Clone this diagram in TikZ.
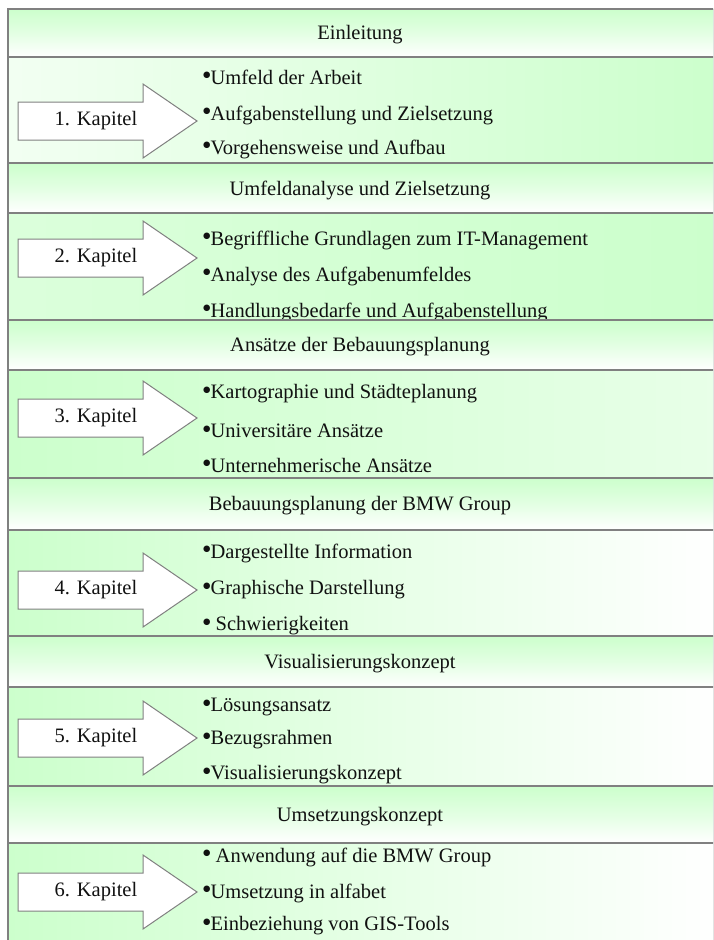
\documentclass[tikz,border=0pt]{standalone}
\usepackage{fontspec}
\setmainfont{Liberation Serif}
\newfontfamily\symfont{DejaVu Sans}
\usepackage{xcolor}
\usepackage{tikz}
\usetikzlibrary{positioning}
\definecolor{PlanGreen}{HTML}{CCFFCC}
\definecolor{PlanGray}{HTML}{808080}
\definecolor{PlanInk}{HTML}{111111}
\newcommand{\pkt}{\raisebox{6.5pt}{\symfont\fontsize{8.5}{8.5}\selectfont ●}}

\begin{document}
\begin{tikzpicture}[x=1pt,y=-1pt,font=\fontsize{20.5}{24}\selectfont,text=PlanInk,
    band/.style={top color=PlanGreen,bottom color=white,middle color=PlanGreen!55!white},
    rule/.style={PlanGray,line width=2pt},
    pfeil/.style={draw=PlanGray,line width=1pt,fill=white,line join=miter},
    punkt/.style={anchor=west,inner sep=0pt}]
  \useasboundingbox (0,0) rectangle (713,940);
  \clip (0,0) rectangle (713,940);
  % content rows
  \fill[left color=PlanGreen!25!white,right color=PlanGreen] (8,57) rectangle (720,163);
  \fill[left color=PlanGreen!70!white,right color=PlanGreen] (8,213) rectangle (720,320);
  \fill[left color=PlanGreen,right color=PlanGreen!45!white] (8,370) rectangle (720,478);
  \fill[left color=PlanGreen,right color=white] (8,530) rectangle (720,636);
  \fill[left color=PlanGreen,right color=white] (8,687) rectangle (720,786);
  \fill[left color=PlanGreen,right color=white] (8,843) rectangle (720,945);
  % arrows and bullets
  \foreach \i/\ay in {1/121,2/258,3/418,4/590,5/738,6/892}{
    \path[pfeil] (18,\ay-19) -- (143,\ay-19) -- (143,\ay-37) -- (197,\ay)
      -- (143,\ay+37) -- (143,\ay+19) -- (18,\ay+19) -- cycle;
    \node (k\i) at (96,\ay) {\i. Kapitel};
  }
  \node[punkt] (p11) at (203,77) {\pkt Umfeld der Arbeit};
  \node[punkt] (p12) at (203,115) {\pkt Aufgabenstellung und Zielsetzung};
  \node[punkt] (p13) at (203,149) {\pkt Vorgehensweise und Aufbau};
  \node[punkt] (p21) at (203,240) {\pkt Begriffliche Grundlagen zum IT-Management};
  \node[punkt] (p22) at (203,276) {\pkt Analyse des Aufgabenumfeldes};
  \node[punkt] (p23) at (203,312) {\pkt Handlungsbedarfe und Aufgabenstellung};
  \node[punkt] (p31) at (203,394) {\pkt Kartographie und Städteplanung};
  \node[punkt] (p32) at (203,431) {\pkt Universitäre Ansätze};
  \node[punkt] (p33) at (203,465) {\pkt Unternehmerische Ansätze};
  \node[punkt] (p41) at (203,553) {\pkt Dargestellte Information};
  \node[punkt] (p42) at (203,590) {\pkt Graphische Darstellung};
  \node[punkt] (p43) at (203,626) {\pkt\ Schwierigkeiten};
  \node[punkt] (p51) at (203,707) {\pkt Lösungsansatz};
  \node[punkt] (p52) at (203,740) {\pkt Bezugsrahmen};
  \node[punkt] (p53) at (203,775) {\pkt Visualisierungskonzept};
  \node[punkt] (p61) at (203,857) {\pkt\ Anwendung auf die BMW Group};
  \node[punkt] (p62) at (203,893) {\pkt Umsetzung in alfabet};
  \node[punkt] (p63) at (203,926) {\pkt Einbeziehung von GIS-Tools};
  % header bands
  \foreach \i/\top/\bot/\titel in {1/9/57/Einleitung,2/163/213/Umfeldanalyse und Zielsetzung,
      3/320/370/Ansätze der Bebauungsplanung,4/478/530/Bebauungsplanung der BMW Group,
      5/636/687/Visualisierungskonzept,6/786/843/Umsetzungskonzept}{
    \fill[band] (8,\top) rectangle (720,\bot);
    \draw[rule] (8,\top) -- (720,\top);
    \draw[rule] (8,\bot) -- (720,\bot);
    \node (h\i) at (360,{(\top+\bot)/2+2}) {\titel};
  }
  \draw[rule] (8,8) -- (8,945);
\end{tikzpicture}
\end{document}
